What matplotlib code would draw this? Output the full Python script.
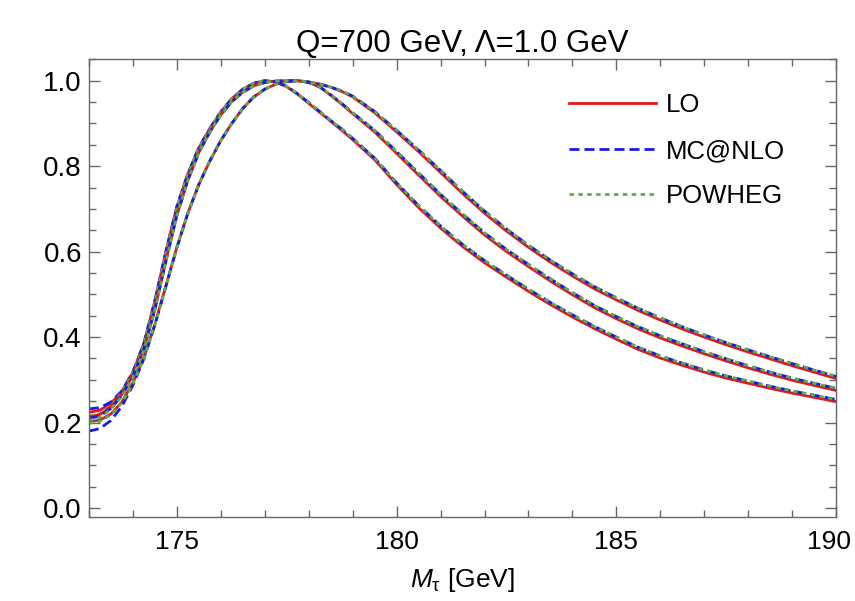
import numpy as np
import matplotlib
matplotlib.use("Agg")
import matplotlib.pyplot as plt
import matplotlib.transforms as mtransforms
from matplotlib.ticker import MultipleLocator, FormatStrFormatter

plt.rcParams['font.family'] = ['Liberation Sans', 'DejaVu Sans']
plt.rcParams['mathtext.fontset'] = 'custom'
plt.rcParams['mathtext.rm'] = 'Liberation Sans'
plt.rcParams['mathtext.it'] = 'Liberation Sans:italic'

# jet mass grid [GeV]
mass = [173.0, 173.25, 173.5, 173.75, 174.0, 174.25, 174.5, 174.75, 175.0, 175.25,
        175.5, 175.75, 176.0, 176.25, 176.5, 176.75, 177.0, 177.25, 177.5, 177.75,
        178.0, 178.25, 178.5, 178.75, 179.0,
        179.5, 180.0, 180.5, 181.0, 181.5, 182.0, 182.5, 183.0, 183.5, 184.0, 184.5,
        185.0, 185.5, 186.0, 186.5, 187.0, 187.5, 188.0, 188.5, 189.0, 189.5, 190.0]

# curve set 1 (earliest peak)
lo_1 = [0.224, 0.229, 0.245, 0.273, 0.318, 0.385, 0.485, 0.600, 0.705, 0.782,
        0.843, 0.888, 0.927, 0.958, 0.980, 0.994, 1.000, 0.997, 0.986, 0.968,
        0.947, 0.926, 0.905, 0.884, 0.862,
        0.815, 0.757, 0.703, 0.655, 0.612, 0.574, 0.540, 0.507, 0.476, 0.447, 0.420,
        0.395, 0.371, 0.351, 0.334, 0.318, 0.304, 0.292, 0.280, 0.269, 0.259, 0.249]
mc_1 = [0.232, 0.235, 0.248, 0.274, 0.318, 0.385, 0.485, 0.600, 0.705, 0.782,
        0.843, 0.888, 0.927, 0.958, 0.980, 0.994, 1.000, 0.997, 0.987, 0.969,
        0.949, 0.928, 0.907, 0.887, 0.865,
        0.819, 0.761, 0.708, 0.660, 0.617, 0.579, 0.545, 0.512, 0.481, 0.452, 0.425,
        0.400, 0.376, 0.356, 0.339, 0.323, 0.309, 0.297, 0.285, 0.274, 0.264, 0.254]
pw_1 = [0.215, 0.221, 0.240, 0.270, 0.316, 0.382, 0.482, 0.597, 0.702, 0.780,
        0.842, 0.887, 0.927, 0.958, 0.980, 0.994, 1.000, 0.997, 0.987, 0.969,
        0.949, 0.928, 0.907, 0.887, 0.865,
        0.819, 0.761, 0.708, 0.660, 0.617, 0.579, 0.545, 0.512, 0.481, 0.452, 0.425,
        0.400, 0.376, 0.356, 0.339, 0.323, 0.309, 0.297, 0.285, 0.274, 0.264, 0.254]

# curve set 2 (rises last, middle tail)
lo_2 = [0.202, 0.206, 0.220, 0.248, 0.293, 0.352, 0.430, 0.520, 0.610, 0.690,
        0.757, 0.812, 0.860, 0.900, 0.935, 0.962, 0.980, 0.992, 0.998, 1.000,
        0.996, 0.985, 0.966, 0.945, 0.923,
        0.880, 0.830, 0.779, 0.729, 0.683, 0.639, 0.600, 0.565, 0.531, 0.499, 0.469,
        0.443, 0.419, 0.398, 0.379, 0.361, 0.344, 0.328, 0.313, 0.299, 0.287, 0.275]
mc_2 = [0.180, 0.186, 0.205, 0.238, 0.287, 0.349, 0.428, 0.518, 0.609, 0.690,
        0.757, 0.812, 0.860, 0.900, 0.935, 0.962, 0.980, 0.992, 0.998, 1.000,
        0.996, 0.986, 0.967, 0.947, 0.925,
        0.884, 0.834, 0.784, 0.734, 0.688, 0.644, 0.605, 0.570, 0.536, 0.504, 0.474,
        0.448, 0.424, 0.403, 0.384, 0.366, 0.349, 0.333, 0.318, 0.304, 0.292, 0.280]
pw_2 = [0.198, 0.203, 0.218, 0.246, 0.291, 0.350, 0.428, 0.518, 0.609, 0.690,
        0.757, 0.812, 0.860, 0.900, 0.935, 0.962, 0.980, 0.992, 0.998, 1.000,
        0.996, 0.986, 0.967, 0.947, 0.925,
        0.884, 0.834, 0.784, 0.734, 0.688, 0.644, 0.605, 0.570, 0.536, 0.504, 0.474,
        0.448, 0.424, 0.403, 0.384, 0.366, 0.349, 0.333, 0.318, 0.304, 0.292, 0.280]

# curve set 3 (broad top, slowest tail)
lo_3 = [0.213, 0.219, 0.237, 0.266, 0.310, 0.372, 0.465, 0.578, 0.685, 0.767,
        0.832, 0.880, 0.920, 0.951, 0.973, 0.988, 0.996, 0.999, 1.000, 1.000,
        0.997, 0.992, 0.985, 0.975, 0.962,
        0.925, 0.880, 0.834, 0.785, 0.736, 0.690, 0.648, 0.610, 0.575, 0.543, 0.513,
        0.487, 0.462, 0.440, 0.419, 0.400, 0.382, 0.365, 0.349, 0.333, 0.318, 0.303]
mc_3 = [0.210, 0.215, 0.233, 0.263, 0.308, 0.372, 0.465, 0.578, 0.685, 0.767,
        0.832, 0.880, 0.920, 0.951, 0.973, 0.988, 0.996, 0.999, 1.000, 1.000,
        0.997, 0.992, 0.985, 0.976, 0.964,
        0.928, 0.884, 0.838, 0.790, 0.741, 0.695, 0.653, 0.615, 0.580, 0.548, 0.518,
        0.492, 0.467, 0.445, 0.424, 0.405, 0.387, 0.370, 0.354, 0.338, 0.323, 0.308]
pw_3 = [0.205, 0.212, 0.231, 0.261, 0.306, 0.369, 0.463, 0.576, 0.684, 0.767,
        0.832, 0.880, 0.920, 0.951, 0.973, 0.988, 0.996, 0.999, 1.000, 1.000,
        0.997, 0.992, 0.985, 0.976, 0.964,
        0.928, 0.884, 0.838, 0.790, 0.741, 0.695, 0.653, 0.615, 0.580, 0.548, 0.518,
        0.492, 0.467, 0.445, 0.424, 0.405, 0.387, 0.370, 0.354, 0.338, 0.323, 0.308]

labels = ['LO', 'MC@NLO', 'POWHEG']
x_ticks = [175, 180, 185, 190]
red = '#e0191c'
blue = '#1a1ae6'
green = '#5aae45'

fig = plt.figure(figsize=(8.55, 6.01), dpi=100)
ax = fig.add_axes([0.104, 0.139, 0.874, 0.763])

for lo, mc, pw in [(lo_1, mc_1, pw_1), (lo_2, mc_2, pw_2), (lo_3, mc_3, pw_3)]:
    ax.plot(mass, lo, color=red, lw=2.0, solid_capstyle='butt')
    ax.plot(mass, mc, color=blue, lw=2.0, dashes=(3.6, 1.8))
    ax.plot(mass, pw, color=green, lw=2.0, dashes=(1.6, 1.6))

# legend handles
h_lo, = ax.plot([], [], color=red, lw=2.0)
h_mc, = ax.plot([], [], color=blue, lw=2.0, dashes=(3.6, 1.8))
h_pw, = ax.plot([], [], color=green, lw=2.0, dashes=(1.6, 1.6))
ax.legend([h_lo, h_mc, h_pw], labels, loc='upper left', bbox_to_anchor=(0.642, 0.925),
          frameon=False, fontsize=18.5, handlelength=3.4, handletextpad=0.4,
          labelspacing=0.84, borderpad=0, borderaxespad=0)

ax.set_xlim(173, 190)
ax.set_ylim(-0.022, 1.051)
ax.set_xticks(x_ticks)
ax.set_xticklabels([str(t) for t in x_ticks])
ax.xaxis.set_minor_locator(MultipleLocator(1))
ax.yaxis.set_major_locator(MultipleLocator(0.2))
ax.yaxis.set_minor_locator(MultipleLocator(0.05))
ax.yaxis.set_major_formatter(FormatStrFormatter('%.1f'))

ax.tick_params(which='both', direction='in', top=True, right=True, color='#666666',
               width=1.0)
ax.tick_params(which='major', length=8)
ax.tick_params(which='minor', length=5)
ax.tick_params(axis='x', labelsize=19, pad=9)
ax.tick_params(axis='y', labelsize=20, pad=5)
for sp in ax.spines.values():
    sp.set_color('#666666')
    sp.set_linewidth(1.0)

# keep the "190" label inside the canvas
for lab in ax.get_xticklabels():
    if lab.get_text() == '190':
        lab.set_transform(lab.get_transform() +
                          mtransforms.ScaledTranslation(-5 / 72, 0, fig.dpi_scale_trans))

ax.set_title('Q=700 GeV, \u039b=1.0 GeV', fontsize=22.5, pad=4)
ax.set_xlabel(r'$M_\mathrm{\tau}$ [GeV]', fontsize=19, labelpad=9)

fig.savefig('out.png', dpi=100)
